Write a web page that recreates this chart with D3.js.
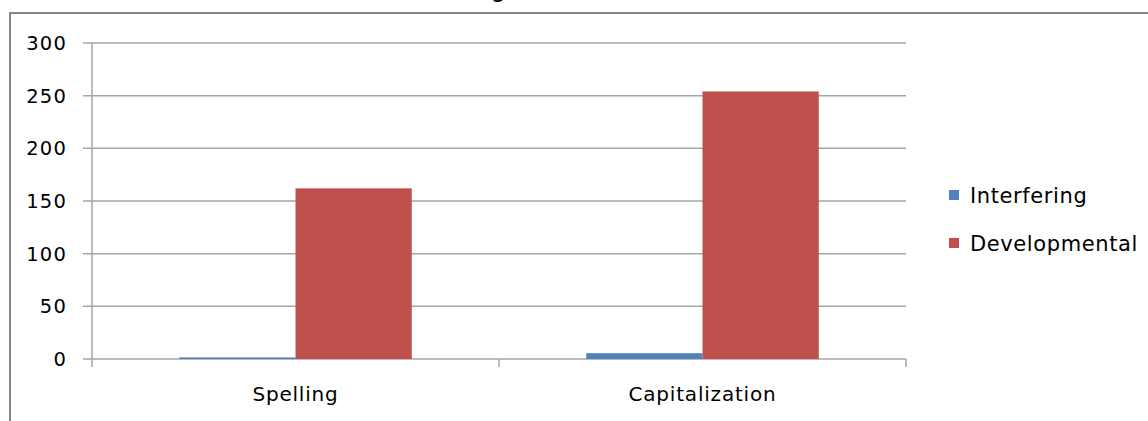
<!DOCTYPE html>
<html><head><meta charset="utf-8">
<script src="https://cdn.jsdelivr.net/npm/d3@7"></script>
<style>body{margin:0;background:#fff;overflow:hidden}text{font-family:"DejaVu Sans",sans-serif;fill:#000}</style>
</head><body><svg id="c" width="1148" height="421"></svg>
<script>
const categories = ["Spelling", "Capitalization"];
const seriesNames = ["Interfering", "Developmental"];
const interfering = [1.5, 5.5];
const developmental = [162, 254];
const yTicks = [0, 50, 100, 150, 200, 250, 300];
const titleText = "Writing";
const colors = ["#4F81BD", "#C0504D"];

const svg = d3.select("#c");
// chart border (only left and top visible in the crop)
svg.append("path").attr("d","M10,421 V13 H1148").attr("fill","none").attr("stroke","#868686").attr("stroke-width",2);
// cut-off title (only the descender is visible in the reference)
svg.append("text").attr("x",506).attr("y",-3).attr("text-anchor","end").attr("font-size",24).attr("font-family","Liberation Sans").text(titleText);

const x0 = d3.scaleBand().domain(categories).range([92, 906]).paddingInner(0).paddingOuter(0);
const y = d3.scaleLinear().domain([0, 300]).range([359, 43]);
const inner = 1.5; // gap width 150%
const barW = x0.bandwidth() / (2 + inner);
const x1 = d3.scaleBand().domain(seriesNames).range([barW*inner/2, barW*inner/2 + 2*barW]);

// gridlines
svg.append("g").selectAll("line").data(yTicks).join("line")
  .attr("x1",83).attr("x2",906).attr("y1",d=>y(d)).attr("y2",d=>y(d))
  .attr("stroke","#a6a6a6").attr("stroke-width",1.5);
// y axis line
svg.append("line").attr("x1",92).attr("x2",92).attr("y1",y(300)).attr("y2",367).attr("stroke","#a6a6a6").attr("stroke-width",1.5);
// category ticks
svg.append("g").selectAll("line").data(categories).join("line")
  .attr("x1",c=>x0(c)+x0.bandwidth()).attr("x2",c=>x0(c)+x0.bandwidth())
  .attr("y1",359).attr("y2",367).attr("stroke","#a6a6a6").attr("stroke-width",1.5);

// y labels
svg.append("g").selectAll("text").data(yTicks).join("text")
  .attr("x",67).attr("y",d=>y(d)).attr("dy","0.36em").attr("text-anchor","end")
  .attr("font-size",19.5).attr("letter-spacing",1.2).text(d=>d);

// bars
const data = categories.map((c,i)=>({c, vals:[interfering[i], developmental[i]]}));
const g = svg.append("g");
data.forEach(d=>{
  d.vals.forEach((v,j)=>{
    g.append("rect").attr("x",x0(d.c)+x1(seriesNames[j])).attr("width",x1.bandwidth())
      .attr("y",y(v)).attr("height",y(0)-y(v)).attr("fill",colors[j]);
  });
});
// category labels
svg.append("g").selectAll("text").data(categories).join("text")
  .attr("x",c=>x0(c)+x0.bandwidth()/2).attr("y",394).attr("dy","0.36em").attr("text-anchor","middle")
  .attr("font-size",20).attr("letter-spacing",0.8).text(c=>c);

// legend
const lg = svg.append("g");
seriesNames.forEach((s,i)=>{
  const cy = 195 + i*48;
  lg.append("rect").attr("x",949).attr("y",cy-5).attr("width",10).attr("height",10).attr("fill",colors[i]);
  lg.append("text").attr("x",970).attr("y",cy).attr("dy","0.36em").attr("font-size",21).attr("letter-spacing",0.6).text(s);
});
</script></body></html>
